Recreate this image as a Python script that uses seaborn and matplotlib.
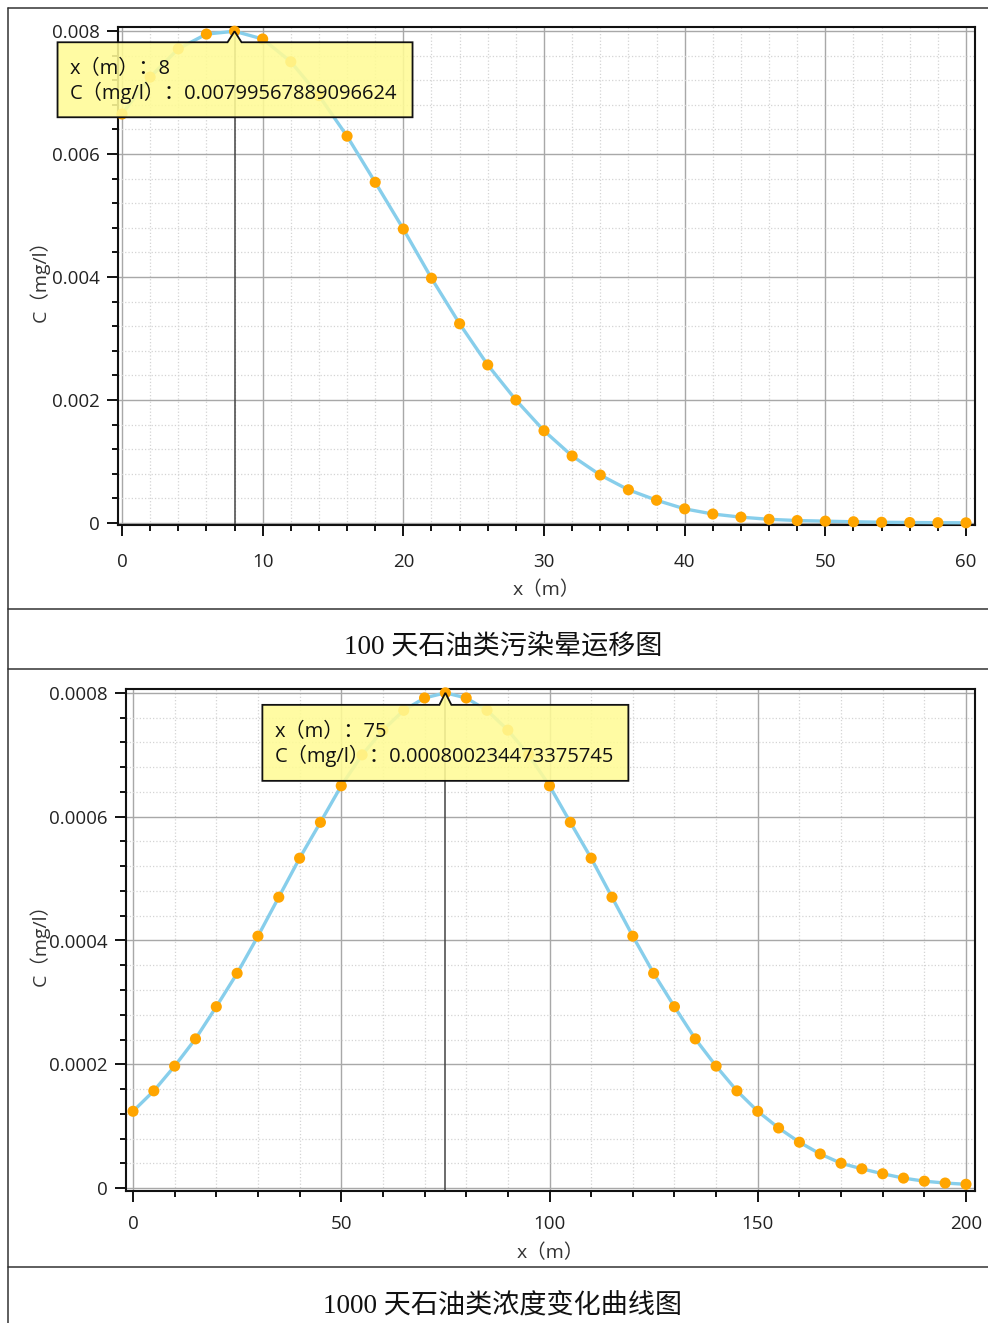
import numpy as np
import pandas as pd
import matplotlib
matplotlib.use("Agg")
import matplotlib.pyplot as plt
import matplotlib.transforms as mtrans
from matplotlib.patches import Polygon
from matplotlib.lines import Line2D
from matplotlib.ticker import MultipleLocator, FuncFormatter
import seaborn as sns

# ---------------- data ----------------
x_100 = list(range(0, 61, 2))
c_100 = [0.00665, 0.00725, 0.00771, 0.00795, 0.00799567889096624, 0.00787, 0.00750,
         0.00695, 0.00629, 0.00554, 0.00478, 0.00398, 0.00324, 0.00257, 0.00200,
         0.00150, 0.00109, 0.00078, 0.00054, 0.00037, 0.00023, 0.000146, 0.000095,
         0.00006, 0.00004, 0.00003, 0.00002, 0.000012, 0.000008, 0.000005, 0.000003]

x_1000 = list(range(0, 201, 5))
c_1000 = [0.000124, 0.000157, 0.000197, 0.000241, 0.000293, 0.000347, 0.000407,
          0.000470, 0.000533, 0.000591, 0.000650, 0.000700, 0.000740, 0.000772,
          0.000792, 0.000800234473375745, 0.000792, 0.000772, 0.000740, 0.000700,
          0.000650, 0.000591, 0.000533, 0.000470, 0.000407, 0.000347, 0.000293,
          0.000241, 0.000197, 0.000157, 0.000124, 0.000097, 0.000074, 0.000055,
          0.000040, 0.000031, 0.000023, 0.000016, 0.000011, 0.000008, 0.000006]

x_label = "x（m）"
y_label = "C（mg/l）"
captions = ["100 天石油类污染晕运移图", "1000 天石油类浓度变化曲线图"]
tip_x = [8, 75]
tip_text = ["x（m）：8\nC（mg/l）：0.00799567889096624",
            "x（m）：75\nC（mg/l）：0.000800234473375745"]

sns.set_style("white")
plt.rcParams['font.family'] = ['Open Sans', 'Noto Sans CJK SC', 'DejaVu Sans']

W, H = 988, 1323
fig = plt.figure(figsize=(W / 100, H / 100), dpi=100)

def fa(l, t, r, b):
    return [l / W, 1 - b / H, (r - l) / W, (b - t) / H]

LINE_C = "#87CEEB"
PT_C = "#FFA500"

def setup(ax, xlim, ylim, xmaj, xmin_, ymaj, ymin_, ylab_x, xlab_y, xpad):
    ax.set_xlim(*xlim)
    ax.set_ylim(*ylim)
    ax.xaxis.set_major_locator(MultipleLocator(xmaj))
    ax.xaxis.set_minor_locator(MultipleLocator(xmin_))
    ax.yaxis.set_major_locator(MultipleLocator(ymaj))
    ax.yaxis.set_minor_locator(MultipleLocator(ymin_))
    ax.yaxis.set_major_formatter(FuncFormatter(lambda v, p: "0" if abs(v) < 1e-12 else f"{v:g}"))
    ax.grid(True, which="major", color="#A8A8A8", lw=1.0, ls="-", zorder=0)
    ax.grid(True, which="minor", color="#D4D4D4", lw=0.9, ls=":", zorder=0)
    ax.set_axisbelow(True)
    for s in ax.spines.values():
        s.set_color("#111111")
        s.set_linewidth(1.5)
    ax.tick_params(which="major", direction="out", length=8, width=1.4,
                   color="#111111", labelsize=13.5, labelcolor="#222222", pad=5)
    ax.tick_params(which="minor", direction="out", length=4.5, width=1.4, color="#111111")
    ax.tick_params(axis="x", which="major", pad=xpad)
    ax.tick_params(left=True, bottom=True, which="both")
    ax.set_xlabel(x_label, fontsize=14, color="#333333")
    ax.set_ylabel(y_label, fontsize=14, color="#333333")
    ax.yaxis.set_label_coords(ylab_x, 0.5)
    ax.xaxis.set_label_coords(0.5, xlab_y)

def draw(ax, xs, cs, ms):
    df = pd.DataFrame({"x": xs, "c": cs})
    sns.lineplot(data=df, x="x", y="c", ax=ax, color=LINE_C, lw=2.4, zorder=3)
    sns.scatterplot(data=df, x="x", y="c", ax=ax, color=PT_C, s=ms, edgecolor="none",
                    zorder=4, clip_on=False)

def tooltip(ax, xv, yv, text, left, right, top, bot, half):
    tr = fig.dpi_scale_trans + mtrans.ScaledTranslation(xv, yv, ax.transData)
    p = 1 / 100.0
    verts = [(left * p, top * p), (-half * p, top * p), (0, 0), (half * p, top * p),
             (right * p, top * p), (right * p, bot * p), (left * p, bot * p)]
    poly = Polygon(verts, closed=True, transform=tr, facecolor="#FFFB96", alpha=0.88,
                   edgecolor="none", zorder=10, clip_on=False)
    fig.add_artist(poly)
    edge = Polygon(verts, closed=True, transform=tr, facecolor="none",
                   edgecolor="#111111", lw=1.3, zorder=11, clip_on=False)
    fig.add_artist(edge)
    t = fig.text((left + 12) * p, ((top + bot) / 2 - 1.5) * p, text, transform=tr,
                 fontsize=14.5, color="#111111", va="center", ha="left",
                 linespacing=1.15, zorder=12,
                 family=['Open Sans', 'Noto Sans CJK SC'])
    return t

# ---------------- top chart ----------------
ax1 = fig.add_axes(fa(118, 27, 975, 525))
px1 = (966 - 122) / 60.0
py1 = (523 - 31) / 0.008
setup(ax1, (-(122 - 118) / px1, 60 + (975 - 966) / px1),
      (-(525 - 523) / py1, 0.008 + (31 - 27) / py1),
      10, 2, 0.002, 0.0004, -0.080, -0.112, 12)
draw(ax1, x_100, c_100, 64)
i1 = x_100.index(tip_x[0])
ax1.axvline(tip_x[0], color="#444444", lw=1.1, zorder=2)
tooltip(ax1, tip_x[0], c_100[i1], tip_text[0], -177, 178, -11, -86, 7)

# ---------------- bottom chart ----------------
ax2 = fig.add_axes(fa(126, 689, 975, 1191))
px2 = (966 - 133) / 200.0
py2 = (1188 - 693) / 0.0008
setup(ax2, (-(133 - 126) / px2, 200 + (975 - 966) / px2),
      (-(1191 - 1188) / py2, 0.0008 + (693 - 689) / py2),
      50, 10, 0.0002, 0.00004, -0.090, -0.104, 9)
draw(ax2, x_1000, c_1000, 64)
i2 = x_1000.index(tip_x[1])
ax2.axvline(tip_x[1], color="#444444", lw=1.1, zorder=2)
tooltip(ax2, tip_x[1], c_1000[i2], tip_text[1], -183, 183, -12, -88, 6)

# ---------------- table borders & captions ----------------
def hline(y):
    fig.add_artist(Line2D([8 / W, 1], [1 - y / H] * 2, transform=fig.transFigure,
                          color="#333333", lw=1.1))

fig.add_artist(Line2D([8 / W, 8 / W], [0, 1 - 8 / H], transform=fig.transFigure,
                      color="#333333", lw=1.1))
for yy in (8, 609, 669, 1267):
    hline(yy)

for cap, yy in zip(captions, (648, 1306)):
    fig.text(503 / W, 1 - yy / H, cap, ha="center", va="center", fontsize=19.5,
             color="#111111", family=['Liberation Serif', 'Noto Sans CJK SC'])

fig.savefig("out.png", dpi=100)
